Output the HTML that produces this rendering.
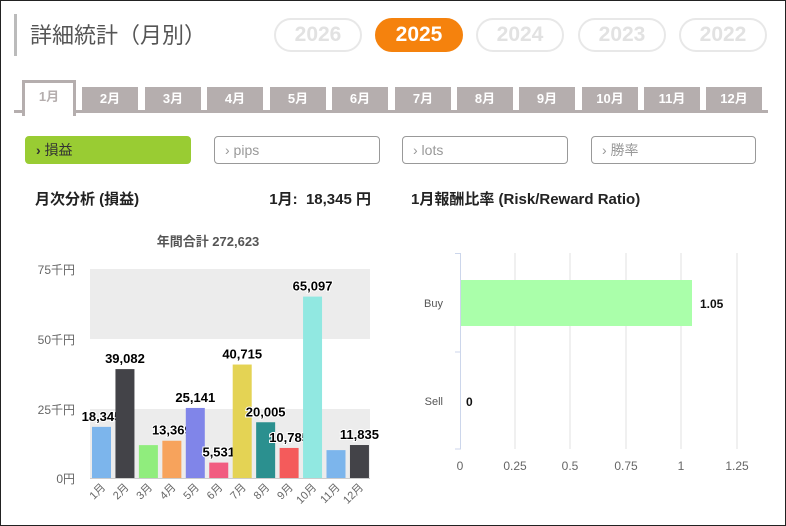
<!DOCTYPE html>
<html><head><meta charset="utf-8"><style>
body{margin:0;width:786px;height:526px;overflow:hidden;background:#fff;font-family:"Liberation Sans","Noto Sans CJK JP",sans-serif;}
.frame{position:absolute;left:0;top:0;width:784px;height:524px;border:1px solid #222;}
.abs{position:absolute;}
.yr{position:absolute;top:18px;width:84px;height:30px;border:2px solid #e8e8e8;border-radius:17px;color:#e2e2e2;font-weight:bold;font-size:21px;text-align:center;line-height:30px;}
.tab{position:absolute;top:87px;width:56px;height:24px;background:#b5aeae;color:#fff;font-weight:bold;font-size:13px;text-align:center;line-height:24px;}
.btn{position:absolute;top:136px;border:1px solid #999;border-radius:4px;color:#999;font-size:14px;line-height:26px;box-sizing:border-box;height:28px;padding-left:10px;}
.h{position:absolute;top:188px;font-weight:bold;font-size:15px;color:#222;}
</style></head><body>
<div class="frame"></div>
<div class="abs" style="left:14px;top:14px;width:3px;height:42px;background:#bbb"></div>
<div class="abs" style="left:30px;top:18px;font-size:22px;color:#555">詳細統計（月別）</div>
<div class="yr" style="left:274px">2026</div>
<div class="yr" style="left:375px;background:#f5820d;border-color:#f5820d;color:#fff">2025</div>
<div class="yr" style="left:476px">2024</div>
<div class="yr" style="left:578px">2023</div>
<div class="yr" style="left:679px">2022</div>
<div class="abs" style="left:14px;top:110px;width:754px;height:3px;background:#b5aeae"></div>
<div class="abs" style="left:22px;top:80px;width:48px;height:33px;border:3px solid #b5aeae;border-bottom:none;background:#fff;color:#b5aeae;font-weight:bold;font-size:13px;text-align:center;line-height:28px">1月</div>
<div class="tab" style="left:82px">2月</div>
<div class="tab" style="left:145px">3月</div>
<div class="tab" style="left:207px">4月</div>
<div class="tab" style="left:270px">5月</div>
<div class="tab" style="left:332px">6月</div>
<div class="tab" style="left:395px">7月</div>
<div class="tab" style="left:457px">8月</div>
<div class="tab" style="left:519px">9月</div>
<div class="tab" style="left:582px">10月</div>
<div class="tab" style="left:644px">11月</div>
<div class="tab" style="left:706px">12月</div>
<div class="btn" style="left:25px;width:166px;background:#99cc33;border-color:#99cc33;color:#333"><b>›</b> 損益</div>
<div class="btn" style="left:214px;width:166px">› pips</div>
<div class="btn" style="left:402px;width:166px">› lots</div>
<div class="btn" style="left:591px;width:165px">› 勝率</div>
<div class="h" style="left:35px">月次分析 (損益)</div>
<div class="h" style="left:200px;width:171px;text-align:right">1月:&nbsp; 18,345 円</div>
<div class="h" style="left:411px">1月報酬比率 (Risk/Reward Ratio)</div>
<svg class="abs" style="left:0;top:0" width="786" height="526" font-family="Liberation Sans, Noto Sans CJK JP, sans-serif">
<text x="208" y="246" text-anchor="middle" font-size="13" font-weight="bold" fill="#555">年間合計 272,623</text>
<rect x="90" y="269" width="280" height="70" fill="#ececec"/>
<rect x="90" y="409" width="280" height="69" fill="#ececec"/>
<line x1="90" y1="478.5" x2="370" y2="478.5" stroke="#ccc"/>
<g font-size="12" fill="#666" text-anchor="end">
<text x="75" y="274">75千円</text><text x="75" y="344">50千円</text><text x="75" y="414">25千円</text><text x="75" y="483">0円</text></g>
<g id="bars"></g>
<g font-size="11" fill="#666" id="xl"></g>
<g stroke="#e0e0e0"><line x1="515" y1="253" x2="515" y2="449"/><line x1="570" y1="253" x2="570" y2="449"/><line x1="626" y1="253" x2="626" y2="449"/><line x1="681" y1="253" x2="681" y2="449"/><line x1="737" y1="253" x2="737" y2="449"/></g>
<path d="M455 253.5H460.5V449H455M455 352H460" stroke="#ccd6eb" fill="none"/>
<rect x="461" y="280" width="231" height="46" fill="#aaffaa"/>
<g font-size="11" fill="#555" text-anchor="end"><text x="443" y="307">Buy</text><text x="443" y="405">Sell</text></g>
<g font-size="12" font-weight="bold" fill="#111"><text x="700" y="308">1.05</text><text x="466" y="406">0</text></g>
<g font-size="12" fill="#666" text-anchor="middle"><text x="460" y="470">0</text><text x="515" y="470">0.25</text><text x="570" y="470">0.5</text><text x="626" y="470">0.75</text><text x="681" y="470">1</text><text x="737" y="470">1.25</text></g>
</svg>
<script>
var v=[18345,39082,11800,13369,25141,5531,40715,20005,10785,65097,10000,11835];
var c=['#7cb5ec','#434348','#90ed7d','#f7a35c','#8085e9','#f15c80','#e4d354','#2b908f','#f45b5b','#91e8e1','#7cb5ec','#434348'];
var lab=['18,345','39,082','','13,369','25,141','5,531','40,715','20,005','10,785','65,097','','11,835'];
var s='',t='';
for(var i=0;i<12;i++){var x=92+i*23.45,h=v[i]*209/75000,y=478-h;
s+='<rect x="'+x+'" y="'+y+'" width="19" height="'+h+'" fill="'+c[i]+'"/>';
if(lab[i])s+='<text x="'+(x+9.5)+'" y="'+(y-6)+'" text-anchor="middle" font-size="13" font-weight="bold" fill="#000" stroke="#fff" stroke-width="2" paint-order="stroke">'+lab[i]+'</text>';
var cx=x+14;t+='<text transform="translate('+cx+',488) rotate(-45)" text-anchor="end">'+(i+1)+'月</text>';}
document.getElementById('bars').innerHTML=s;document.getElementById('xl').innerHTML=t;
</script>
</body></html>
